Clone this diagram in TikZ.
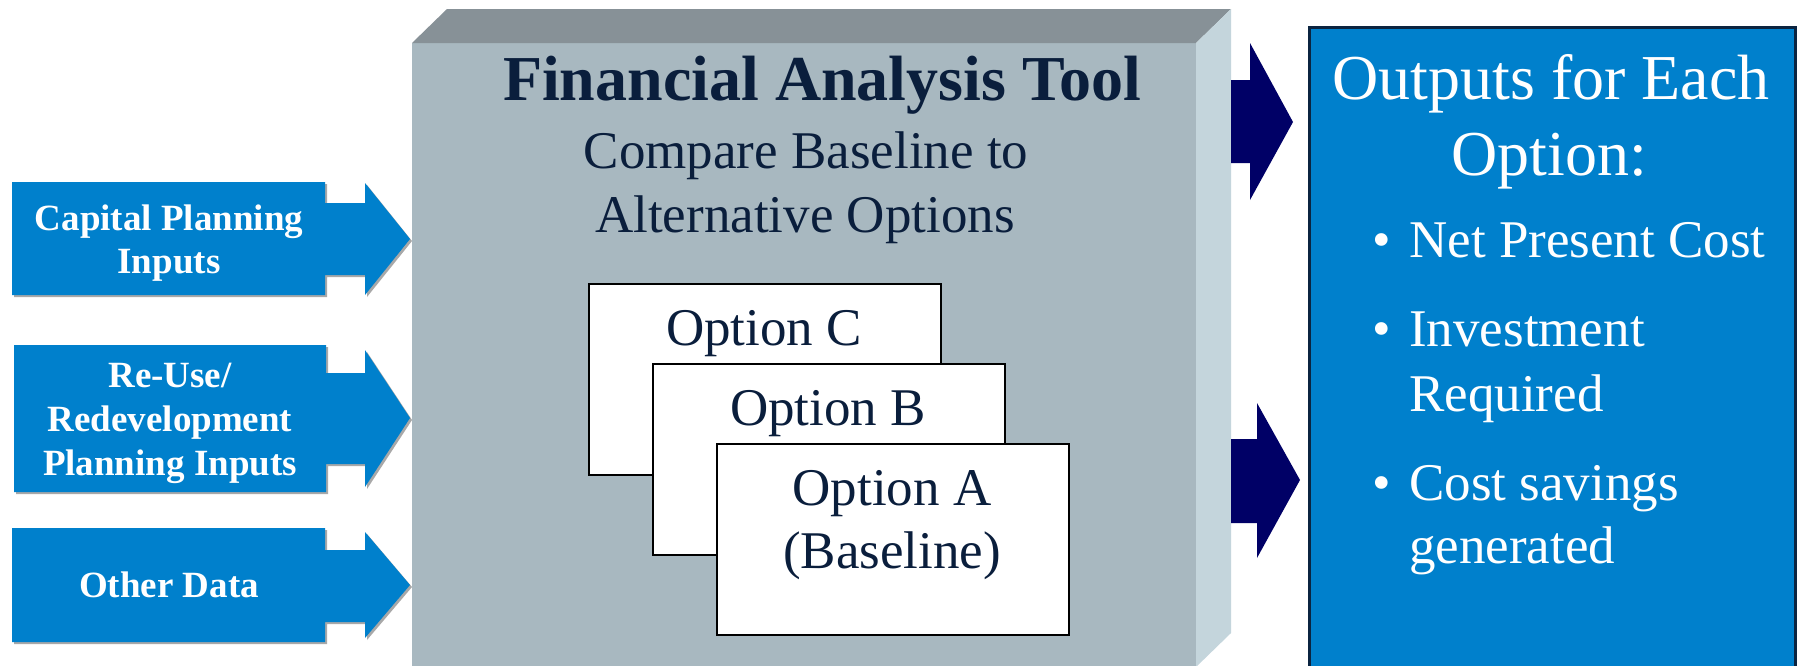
\documentclass[tikz,border=0pt]{standalone}
\usepackage{fontspec}
\setmainfont{Liberation Serif}
\definecolor{calblue}{HTML}{0080CC}
\definecolor{shadowgray}{HTML}{A8A8A8}
\definecolor{topface}{HTML}{879197}
\definecolor{frontface}{HTML}{A8B8C0}
\definecolor{rightface}{HTML}{C4D5DC}
\definecolor{navytext}{HTML}{0A1E3C}
\definecolor{arrownavy}{HTML}{000066}
\definecolor{outborder}{HTML}{0B2440}
\tikzset{
  intext/.style={anchor=base, inner sep=0pt, text=white, font=\fontsize{37}{43}\selectfont\bfseries},
  titletext/.style={anchor=base, inner sep=0pt, text=navytext, font=\fontsize{64}{76}\selectfont\bfseries},
  subtext/.style={anchor=base, inner sep=0pt, text=navytext, font=\fontsize{53}{63}\selectfont},
  outtitle/.style={anchor=base, inner sep=0pt, text=white, font=\fontsize{64}{76}\selectfont},
  outtext/.style={anchor=base west, inner sep=0pt, text=white, font=\fontsize{53}{63}\selectfont},
  bulletmark/.style={anchor=base, inner sep=0pt, text=white, font=\fontsize{53}{63}\selectfont},
  optbox/.style={draw=black, line width=2pt, fill=white, anchor=north west, inner sep=0pt, minimum width=352pt, minimum height=191pt},
  callout/.style={fill=calblue},
  calloutshadow/.style={fill=shadowgray},
  navyarrow/.style={fill=arrownavy},
}
\begin{document}
\begin{tikzpicture}[x=1pt,y=-1pt]
\useasboundingbox[fill=white] (0,0) rectangle (1798,665);

% ---- left input callouts ----
\def\calloutA{(12,182) -- (325,182) -- (325,203) -- (365,203) -- (365,183) -- (410,239) -- (365,295) -- (365,275) -- (325,275) -- (325,295) -- (12,295) -- cycle}
\def\calloutB{(14,345) -- (326,345) -- (326,373) -- (365,373) -- (365,350) -- (410,418) -- (365,487) -- (365,464) -- (326,464) -- (326,492) -- (14,492) -- cycle}
\def\calloutC{(12,528) -- (325,528) -- (325,550) -- (365,550) -- (365,532) -- (410,585) -- (365,638) -- (365,622) -- (325,622) -- (325,642) -- (12,642) -- cycle}
\begin{scope}[shift={(2,2)}]
  \fill[calloutshadow] \calloutA;
  \fill[calloutshadow] \calloutB;
  \fill[calloutshadow] \calloutC;
\end{scope}
\fill[callout] \calloutA;
\fill[callout] \calloutB;
\fill[callout] \calloutC;

\node[intext] (capA) at (169,230) {Capital Planning};
\node[intext] (capB) at (169,273) {Inputs};
\node[intext] (reuA) at (170,387) {Re-Use/};
\node[intext] (reuB) at (170,431) {Redevelopment};
\node[intext] (reuC) at (170,475) {Planning Inputs};
\node[intext] (oth) at (169,597) {Other Data};

% ---- 3D box ----
\fill[frontface] (412,43) rectangle (1196,670);
\fill[topface] (412,43) -- (447,9) -- (1231,9) -- (1196,43) -- cycle;
\fill[rightface] (1196,43) -- (1231,9) -- (1231,633) -- (1196,667) -- cycle;

\node[titletext] (title) at (822,100) {Financial Analysis Tool};
\node[subtext] (subA) at (806,168) {Compare Baseline to};
\node[subtext] (subB) at (805,232) {Alternative Options};

% ---- option cards ----
\node[optbox] (optC) at (588,283) {};
\node[subtext] (optCt) at (764,345) {Option C};
\node[optbox] (optB) at (652,363) {};
\node[subtext] (optBt) at (828,425) {Option B};
\node[optbox] (optA) at (716,443) {};
\node[subtext] (optAt) at (892,505) {Option A};
\node[subtext] (optAb) at (892,568) {(Baseline)};

% ---- navy arrows ----
\fill[navyarrow] (1231,80) -- (1250,80) -- (1250,43) -- (1293,122) -- (1250,200) -- (1250,163) -- (1231,163) -- cycle;
\fill[navyarrow] (1231,439) -- (1257,439) -- (1257,403) -- (1300,480) -- (1257,558) -- (1257,523) -- (1231,523) -- cycle;

% ---- outputs box ----
\node[draw=outborder, line width=2.5pt, fill=calblue, anchor=north west, inner sep=0pt, minimum width=486pt, minimum height=660pt] (out) at (1308,26) {};
\node[outtitle] (outA) at (1551,99) {Outputs for Each};
\node[outtitle] (outB) at (1549,175) {Option:};

\node[bulletmark] (b1) at (1382,257) {\textbullet};
\node[outtext] (t1) at (1409,257) {Net Present Cost};
\node[bulletmark] (b2) at (1382,346) {\textbullet};
\node[outtext] (t2) at (1409,346) {Investment};
\node[outtext] (t2b) at (1409,411) {Required};
\node[bulletmark] (b3) at (1382,500) {\textbullet};
\node[outtext] (t3) at (1409,500) {Cost savings};
\node[outtext] (t3b) at (1409,563) {generated};
\end{tikzpicture}
\end{document}
